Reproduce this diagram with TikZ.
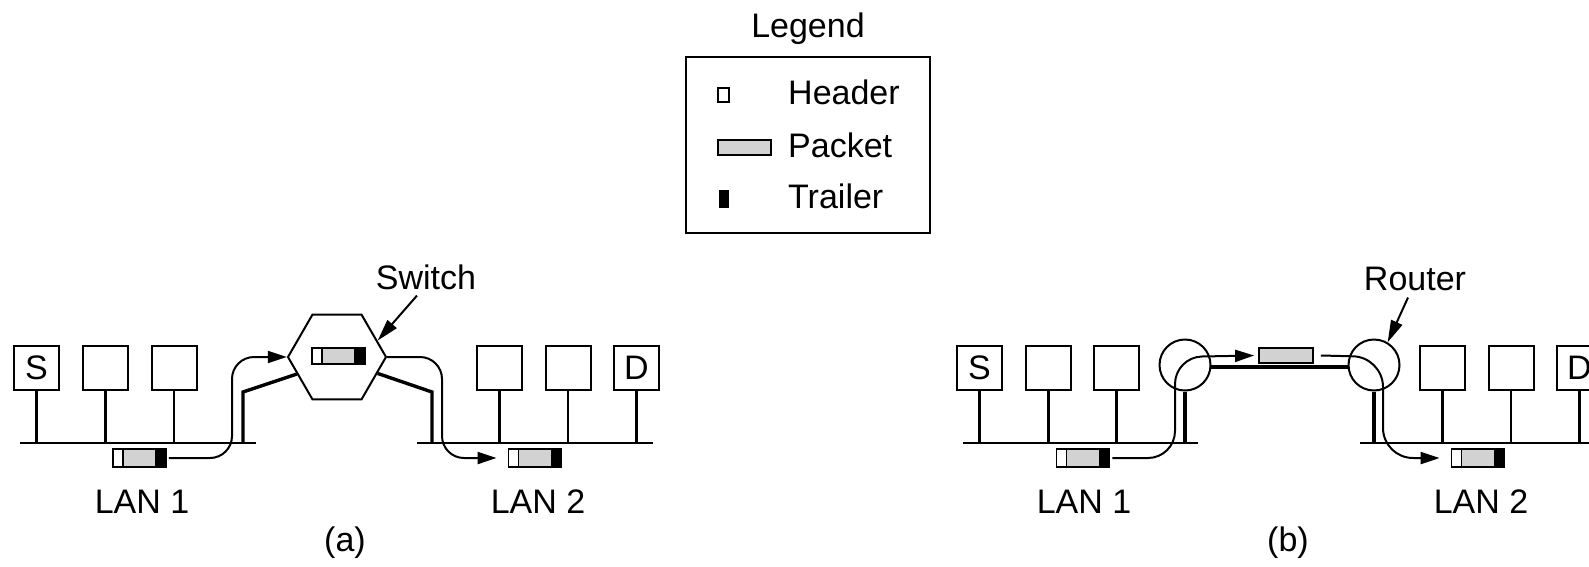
\documentclass[tikz,border=0pt]{standalone}
\usepackage{fontspec}
\setmainfont{Liberation Sans}
\usetikzlibrary{arrows.meta,shapes.geometric}
\begin{document}
\begin{tikzpicture}[x=1pt,y=-1pt,
  every node/.style={font=\fontsize{34}{40}\selectfont, inner sep=0pt},
  station/.style={draw, line width=2pt, minimum width=45pt, minimum height=44pt},
  wire/.style={line width=2.8pt},
  thickwire/.style={line width=3.4pt},
  flow/.style={line width=2pt, -{Triangle[length=19pt,width=12pt]}},
  pointer/.style={line width=2pt, -{Triangle[length=22pt,width=12pt]}},
  router/.style={draw, circle, line width=2pt, minimum size=51pt},
  pkt/.style={draw, line width=1.8pt, fill=gray!35, minimum width=53pt, minimum height=18pt,
    path picture={
      \fill[white] (path picture bounding box.north west) rectangle ([xshift=10pt]path picture bounding box.south west);
      \draw[line width=1.5pt] ([xshift=10pt]path picture bounding box.north west) -- ([xshift=10pt]path picture bounding box.south west);
      \fill[black] ([xshift=-11pt]path picture bounding box.north east) rectangle (path picture bounding box.south east);
    }},
  bare/.style={draw, line width=1.8pt, fill=gray!35, minimum width=54pt, minimum height=15pt}
]
\useasboundingbox (0,0) rectangle (1589,566);

% ---------- Legend ----------
\node[anchor=base] (legt) at (808,37) {Legend};
\node[draw, line width=2pt, minimum width=244pt, minimum height=176pt] (leg) at (808,145) {};
\node[draw, line width=1.5pt, fill=white, minimum width=11pt, minimum height=14pt] (lh) at (723.5,95) {};
\node[draw, line width=1.5pt, fill=gray!35, minimum width=53pt, minimum height=15pt] (lp) at (744.5,147.5) {};
\node[fill=black, minimum width=10pt, minimum height=18pt] (lt) at (724,199) {};
\node[anchor=base west] (lht) at (788,104) {Header};
\node[anchor=base west] (lpt) at (788,157) {Packet};
\node[anchor=base west] (ltt) at (788,208) {Trailer};

% ---------- (a) ----------
\coordinate (a1L) at (20,443);  \coordinate (a1R) at (256,443);
\coordinate (a2L) at (417,443); \coordinate (a2R) at (653,443);
\draw[wire] (a1L) -- (a1R);
\draw[wire] (a2L) -- (a2R);
\node[station] (sa1) at (36.5,368) {S};
\node[station] (sa2) at (105.5,368) {};
\node[station] (sa3) at (174,368) {};
\node[station] (sa4) at (499.5,368) {};
\node[station] (sa5) at (568,368) {};
\node[station] (sa6) at (636.5,368) {D};
\foreach \n in {sa1,sa2,sa3,sa4,sa5,sa6} \draw[wire] (\n.south) -- (\n.south |- a1L);

\node[draw, line width=2pt, fill=white, regular polygon, regular polygon sides=6, minimum size=98pt] (sw) at (337,357) {};
\node[pkt, minimum height=16pt] (psw) at (338.5,356) {};
\draw[thickwire] (sw.203) -- (243,392) -- (243,443);
\draw[thickwire] (sw.338) -- (432,392) -- (432,443);

\node[pkt] (pa1) at (139.5,458) {};
\node[pkt] (pa2) at (535,458) {};
\draw[flow, rounded corners=22pt] ([xshift=2pt]pa1.east) -- (232,458) -- (232,357) -- (sw.west);
\draw[flow, rounded corners=22pt] (sw.east) -- (442,357) -- (442,458) -- ([xshift=-11pt]pa2.west);

\node[anchor=base] (swl) at (426,289) {Switch};
\draw[pointer] ([xshift=-9pt,yshift=-6pt]swl.south) -- (sw.22);

\node[anchor=base] (la1) at (142,513) {LAN 1};
\node[anchor=base] (la2) at (538,513) {LAN 2};
\node[anchor=base] (capa) at (345,551) {(a)};

% ---------- (b) ----------
\coordinate (b1L) at (963,443);  \coordinate (b1R) at (1198,443);
\coordinate (b2L) at (1360,443); \coordinate (b2R) at (1600,443);
\draw[wire] (b1L) -- (b1R);
\draw[wire] (b2L) -- (b2R);
\node[station] (sb1) at (979.5,368) {S};
\node[station] (sb2) at (1048.5,368) {};
\node[station] (sb3) at (1116.5,368) {};
\node[station] (sb4) at (1442.5,368) {};
\node[station] (sb5) at (1511,368) {};
\node[station] (sb6) at (1579.5,368) {D};
\foreach \n in {sb1,sb2,sb3,sb4,sb5,sb6} \draw[wire] (\n.south) -- (\n.south |- b1L);

\node[router] (r1) at (1185,365) {};
\node[router] (r2) at (1374,365) {};
\draw[thickwire] (r1.south) -- (r1.south |- b1L);
\draw[thickwire] (r2.south) -- (r2.south |- b1L);
\draw[thickwire] (r1.-4) -- (r2.184);

\node[pkt] (pb1) at (1083,458) {};
\node[pkt] (pb2) at (1478,458) {};
\node[bare] (pm) at (1286,355.5) {};
\draw[flow, rounded corners=27pt] ([xshift=2pt]pb1.east) -- (1175,458) -- (1175,357) -- ([xshift=-4pt]pm.west);
\draw[flow, rounded corners=30pt] ([xshift=7pt]pm.east) -- (1383,357) -- (1383,458) -- ([xshift=-11pt]pb2.west);

\node[anchor=base] (rl) at (1415,290) {Router};
\draw[pointer] ([xshift=-7pt,yshift=-7pt]rl.south) -- (r2.59);

\node[anchor=base] (lb1) at (1084,513) {LAN 1};
\node[anchor=base] (lb2) at (1481,513) {LAN 2};
\node[anchor=base] (capb) at (1288,551) {(b)};
\end{tikzpicture}
\end{document}
